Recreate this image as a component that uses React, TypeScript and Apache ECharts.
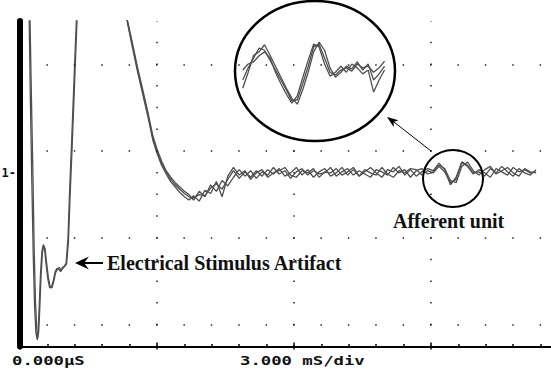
import React, { useEffect, useRef } from "react";
import * as echarts from "echarts";

// ---- axes (time in ms, amplitude in vertical minor divisions; "1" marks channel-1 zero) ----
const X_MAX_MS = 12;
const X_MAJOR_MS = 3;
const X_MINOR_SPLIT = 5;
const Y_MIN = -8;
const Y_MAX = 7;
const GRID_ROWS = [5, 1, -3, -7];
const X_LABEL_LEFT = "0.000\u00b5S";
const X_LABEL_MID = "3.000 mS/div";
const Y_ZERO_LABEL = "1-";

// ---- stimulus artifact (two sweeps) ----
const ARTIFACT_T1 = [0.17, 0.22, 0.25, 0.28, 0.31, 0.34, 0.37, 0.39, 0.41, 0.43, 0.46, 0.49, 0.52, 0.55, 0.58, 0.62, 0.66, 0.70, 0.74, 0.78, 0.82, 0.86, 0.90, 0.94, 0.98, 1.02, 1.06, 1.10, 1.14, 1.20, 1.25, 1.30];
const ARTIFACT_V1 = [9.5, 7.0, 3.5, 0.3, -3.5, -6.0, -7.3, -7.6, -7.3, -6.4, -4.8, -3.7, -3.35, -3.5, -4.1, -4.8, -5.25, -5.3, -5.0, -4.6, -4.45, -4.35, -4.5, -4.4, -4.3, -4.2, -3.2, -0.9, 1.1, 4.4, 7.1, 9.5];
const ARTIFACT_T2 = [0.15, 0.20, 0.23, 0.26, 0.29, 0.32, 0.35, 0.38, 0.40, 0.42, 0.45, 0.48, 0.51, 0.54, 0.57, 0.61, 0.65, 0.69, 0.73, 0.77, 0.81, 0.85, 0.89, 0.93, 0.97, 1.01, 1.05, 1.09, 1.13, 1.19, 1.24, 1.29];
const ARTIFACT_V2 = [9.5, 7.2, 3.0, -0.5, -3.8, -6.2, -7.4, -7.7, -7.2, -6.2, -4.6, -3.6, -3.3, -3.55, -4.2, -4.9, -5.3, -5.25, -4.95, -4.55, -4.4, -4.45, -4.55, -4.35, -4.3, -4.15, -3.0, -0.6, 1.4, 4.7, 7.3, 9.5];

// ---- recovery decay (three sweeps) ----
const DECAY_TIMES = [2.25, 2.34, 2.45, 2.57, 2.68, 2.80, 2.91, 3.00, 3.10, 3.20, 3.30, 3.40, 3.50, 3.60, 3.70];
const DECAY_A = [8.0, 7.1, 6.0, 4.8, 3.8, 2.7, 1.6, 1.0, 0.45, 0.05, -0.3, -0.55, -0.75, -0.95, -1.1];
const DECAY_B = [8.0, 7.15, 6.1, 4.9, 3.9, 2.8, 1.7, 1.1, 0.55, 0.1, -0.2, -0.45, -0.65, -0.85, -1.0];
const DECAY_C = [7.9, 7.05, 5.9, 4.7, 3.7, 2.6, 1.5, 0.9, 0.35, -0.05, -0.4, -0.65, -0.9, -1.1, -1.25];

// ---- baseline with afferent unit, sampled every 0.125 ms from 3.8 ms ----
const BASE_START = 3.8;
const BASE_STEP = 0.125;
const BASE_A = [
  -1.15, -1.0, -1.05, -0.7, -0.5, -0.75, -0.3, 0.1,
  -0.25, 0.05, -0.2, 0.1, -0.15, 0.15, -0.05, 0.2,
  -0.15, 0.0, 0.25, -0.1, 0.15, -0.2, 0.05, 0.2,
  -0.15, 0.0, 0.25, -0.1, 0.15, -0.15, 0.05, 0.25,
  0.0, -0.2, 0.15, 0.05, 0.3, -0.1, 0.15, -0.15,
  0.05, 0.2, 0.1, 0.45, 0.15, -0.55, -0.2, 0.5,
  0.35, 0.0, 0.05, -0.15, 0.2, 0.0, 0.3, 0.05,
  -0.15, 0.2, 0.0, -0.1, 0.15,
];
const BASE_B = [
  -1.25, -0.85, -1.1, -0.55, -0.85, -0.35, -0.6, -0.2,
  0.15, -0.15, 0.1, -0.25, 0.05, -0.1, 0.25, -0.05,
  0.1, -0.25, 0.05, 0.2, -0.1, 0.1, -0.05, 0.0,
  0.25, -0.15, 0.05, 0.2, -0.1, 0.1, -0.05, -0.2,
  0.15, 0.05, -0.1, 0.25, 0.0, 0.15, -0.2, 0.1,
  0.2, -0.05, 0.05, 0.35, 0.2, -0.35, -0.45, 0.3,
  0.5, 0.1, -0.1, 0.15, 0.3, -0.05, 0.1, 0.25,
  0.0, -0.15, 0.2, 0.05, 0.0,
];
const BASE_C = [
  -1.05, -1.3, -0.8, -0.95, -0.4, -1.1, -0.15, 0.25,
  -0.1, 0.1, -0.3, 0.0, 0.15, -0.2, 0.0, 0.1,
  0.25, -0.1, -0.2, 0.1, 0.0, 0.2, -0.2, 0.05,
  0.0, 0.2, -0.1, 0.05, 0.25, -0.15, 0.15, 0.0,
  -0.1, 0.25, -0.05, -0.2, 0.1, 0.0, 0.2, 0.15,
  -0.1, 0.1, 0.0, 0.3, 0.05, -0.45, -0.3, 0.5,
  0.3, -0.05, 0.15, 0.0, -0.2, 0.2, 0.05, -0.1,
  0.25, 0.05, 0.15, 0.0, 0.05,
];

// ---- magnified afferent unit (inset), sampled every 0.04 ms from 9.02 ms ----
const INSET_START = 9.02;
const INSET_STEP = 0.04;
const INSET_X_RANGE = [9.0, 10.1];
const INSET_Y_RANGE = [-1, 1];
const INSET_1 = [-0.09, 0.13, 0.31, 0.49, 0.45, 0.27, 0.09, -0.09, -0.27, -0.47, -0.45, -0.16, 0.16, 0.51, 0.56, 0.31, 0.05, 0.0, 0.09, 0.13, 0.07, 0.2, 0.13, 0.16, 0.05, 0.13, 0.25];
const INSET_2 = [-0.24, 0.05, 0.36, 0.42, 0.55, 0.36, 0.16, -0.04, -0.24, -0.42, -0.53, -0.27, 0.05, 0.42, 0.6, 0.45, 0.13, -0.04, 0.05, 0.16, 0.11, 0.24, 0.09, 0.2, -0.09, 0.02, 0.16];
const INSET_3 = [0.09, 0.2, 0.24, 0.35, 0.42, 0.31, 0.05, -0.16, -0.35, -0.51, -0.38, -0.05, 0.27, 0.56, 0.51, 0.2, -0.02, 0.05, 0.16, 0.05, 0.2, 0.13, 0.02, 0.09, -0.31, -0.09, 0.09];

const TRACE_COLOR = "#4f4f4f";

function pairs(ts: number[], vs: number[]) {
  return ts.map((t, i) => [t, vs[i]]);
}
function sampled(start: number, step: number, vs: number[]) {
  return vs.map((v, i) => [+(start + i * step).toFixed(4), v]);
}

export default function App() {
  const ref = useRef<HTMLDivElement>(null);

  useEffect(() => {
    if (!ref.current) return;
    const chart = echarts.init(ref.current, undefined, { renderer: "svg" });

    const trace = (data: number[][], extra: any = {}) => ({
      type: "line",
      data,
      symbol: "none",
      showSymbol: false,
      silent: true,
      clip: true,
      z: 2,
      lineStyle: { color: TRACE_COLOR, width: 1.3 },
      emphasis: { disabled: true },
      ...extra,
    });

    const mainA = [...pairs(DECAY_TIMES, DECAY_A), ...sampled(BASE_START, BASE_STEP, BASE_A)];
    const mainB = [...pairs(DECAY_TIMES, DECAY_B), ...sampled(BASE_START, BASE_STEP, BASE_B)];
    const mainC = [...pairs(DECAY_TIMES, DECAY_C), ...sampled(BASE_START, BASE_STEP, BASE_C)];

    const dotFont = { fontFamily: "DejaVu Sans Mono", fontWeight: "bold", fontSize: 12, fill: "#111", verticalAlign: "middle", align: "left" };
    const serif = { fontFamily: "Liberation Serif", fontWeight: "bold", fontSize: 20, fill: "#111", verticalAlign: "middle", align: "left" };

    chart.setOption({
      animation: false,
      backgroundColor: "#fff",
      grid: [
        { left: 20, top: 21, width: 548, height: 325.5, outerBoundsMode: "none", containLabel: false },
        { left: 240, top: 20, width: 150, height: 110, outerBoundsMode: "none", containLabel: false },
      ],
      xAxis: [
        {
          type: "value", gridIndex: 0, position: "bottom", min: 0, max: X_MAX_MS, interval: X_MAJOR_MS,
          axisLine: { show: true, onZero: false, lineStyle: { color: "#000", width: 2 } },
          axisTick: { show: true, inside: true, length: 4, lineStyle: { color: "#000", width: 1.5 } },
          minorTick: { show: true, splitNumber: X_MINOR_SPLIT, length: 2.5, lineStyle: { color: "#000", width: 1.5 } },
          axisLabel: { show: false },
          splitLine: { show: true, showMinLine: false, showMaxLine: false, lineStyle: { color: "#222", width: 1.5, type: [1.5, 20.2], dashOffset: 0.75 } },
          minorSplitLine: { show: false },
        },
        {
          type: "value", gridIndex: 0, position: "bottom", min: 0, max: X_MAX_MS, interval: X_MAJOR_MS,
          axisLine: { show: false, onZero: false },
          axisTick: { show: true, inside: false, length: 3, lineStyle: { color: "#000", width: 1.5 } },
          axisLabel: { show: false },
          splitLine: { show: false },
        },
        { type: "value", gridIndex: 1, min: INSET_X_RANGE[0], max: INSET_X_RANGE[1], show: false },
      ],
      yAxis: [
        {
          type: "value", gridIndex: 0, min: Y_MIN, max: Y_MAX, interval: 1,
          axisLine: { show: true, onZero: false, lineStyle: { color: "#000", width: 6 } },
          axisTick: { show: false },
          splitLine: { show: false },
          axisLabel: {
            show: true, margin: 4, color: "#111", fontFamily: "DejaVu Sans Mono", fontWeight: "bold", fontSize: 12,
            formatter: (v: number) => (Math.abs(v) < 1e-9 ? Y_ZERO_LABEL : ""),
          },
        },
        { type: "value", gridIndex: 1, min: INSET_Y_RANGE[0], max: INSET_Y_RANGE[1], show: false },
      ],
      series: [
        trace(pairs(ARTIFACT_T1, ARTIFACT_V1)),
        trace(pairs(ARTIFACT_T2, ARTIFACT_V2)),
        trace(mainA, {
          markLine: {
            silent: true,
            animation: false,
            symbol: ["none", "none"],
            label: { show: false },
            emphasis: { disabled: true },
            lineStyle: { color: "#222", width: 1.5, type: [1.5, 25.9], dashOffset: 0.75 },
            data: GRID_ROWS.map((v) => ({ yAxis: v })),
          },
        }),
        trace(mainB),
        trace(mainC),
        trace(sampled(INSET_START, INSET_STEP, INSET_1), { xAxisIndex: 2, yAxisIndex: 1, z: 6 }),
        trace(sampled(INSET_START, INSET_STEP, INSET_2), { xAxisIndex: 2, yAxisIndex: 1, z: 6 }),
        trace(sampled(INSET_START, INSET_STEP, INSET_3), { xAxisIndex: 2, yAxisIndex: 1, z: 6 }),
      ],
      graphic: [
        { type: "ellipse", z: 5, silent: true, shape: { cx: 315, cy: 71, rx: 80, ry: 70 }, style: { fill: "#fff", stroke: "#000", lineWidth: 2.5 } },
        { type: "ellipse", z: 7, silent: true, shape: { cx: 453, cy: 178.5, rx: 30, ry: 28.5 }, style: { fill: "none", stroke: "#000", lineWidth: 2 } },
        { type: "line", z: 7, silent: true, shape: { x1: 431, y1: 151, x2: 394, y2: 122 }, style: { stroke: "#000", lineWidth: 1 } },
        { type: "polygon", z: 7, silent: true, shape: { points: [[387, 117], [398.5, 120.2], [393.8, 122], [393.6, 127]] }, style: { fill: "#000" } },
        { type: "line", z: 7, silent: true, shape: { x1: 82, y1: 263, x2: 103, y2: 263 }, style: { stroke: "#000", lineWidth: 2 } },
        { type: "polygon", z: 7, silent: true, shape: { points: [[75, 263], [89, 256.5], [84, 263], [89, 269.5]] }, style: { fill: "#000" } },
        { type: "text", z: 7, silent: true, x: 107, y: 263, style: { text: "Electrical Stimulus Artifact", ...serif } },
        { type: "text", z: 7, silent: true, x: 393, y: 221, style: { text: "Afferent unit", ...serif } },
        { type: "text", z: 7, silent: true, x: 12, y: 361, scaleX: 1.44, style: { text: X_LABEL_LEFT, ...dotFont } },
        { type: "text", z: 7, silent: true, x: 240, y: 361, scaleX: 1.44, style: { text: X_LABEL_MID, ...dotFont } },
      ],
    });

    return () => chart.dispose();
  }, []);

  return (
    <div
      ref={ref}
      style={{ position: "absolute", left: 0, top: 0, width: 551, height: 369, background: "#fff" }}
    />
  );
}
